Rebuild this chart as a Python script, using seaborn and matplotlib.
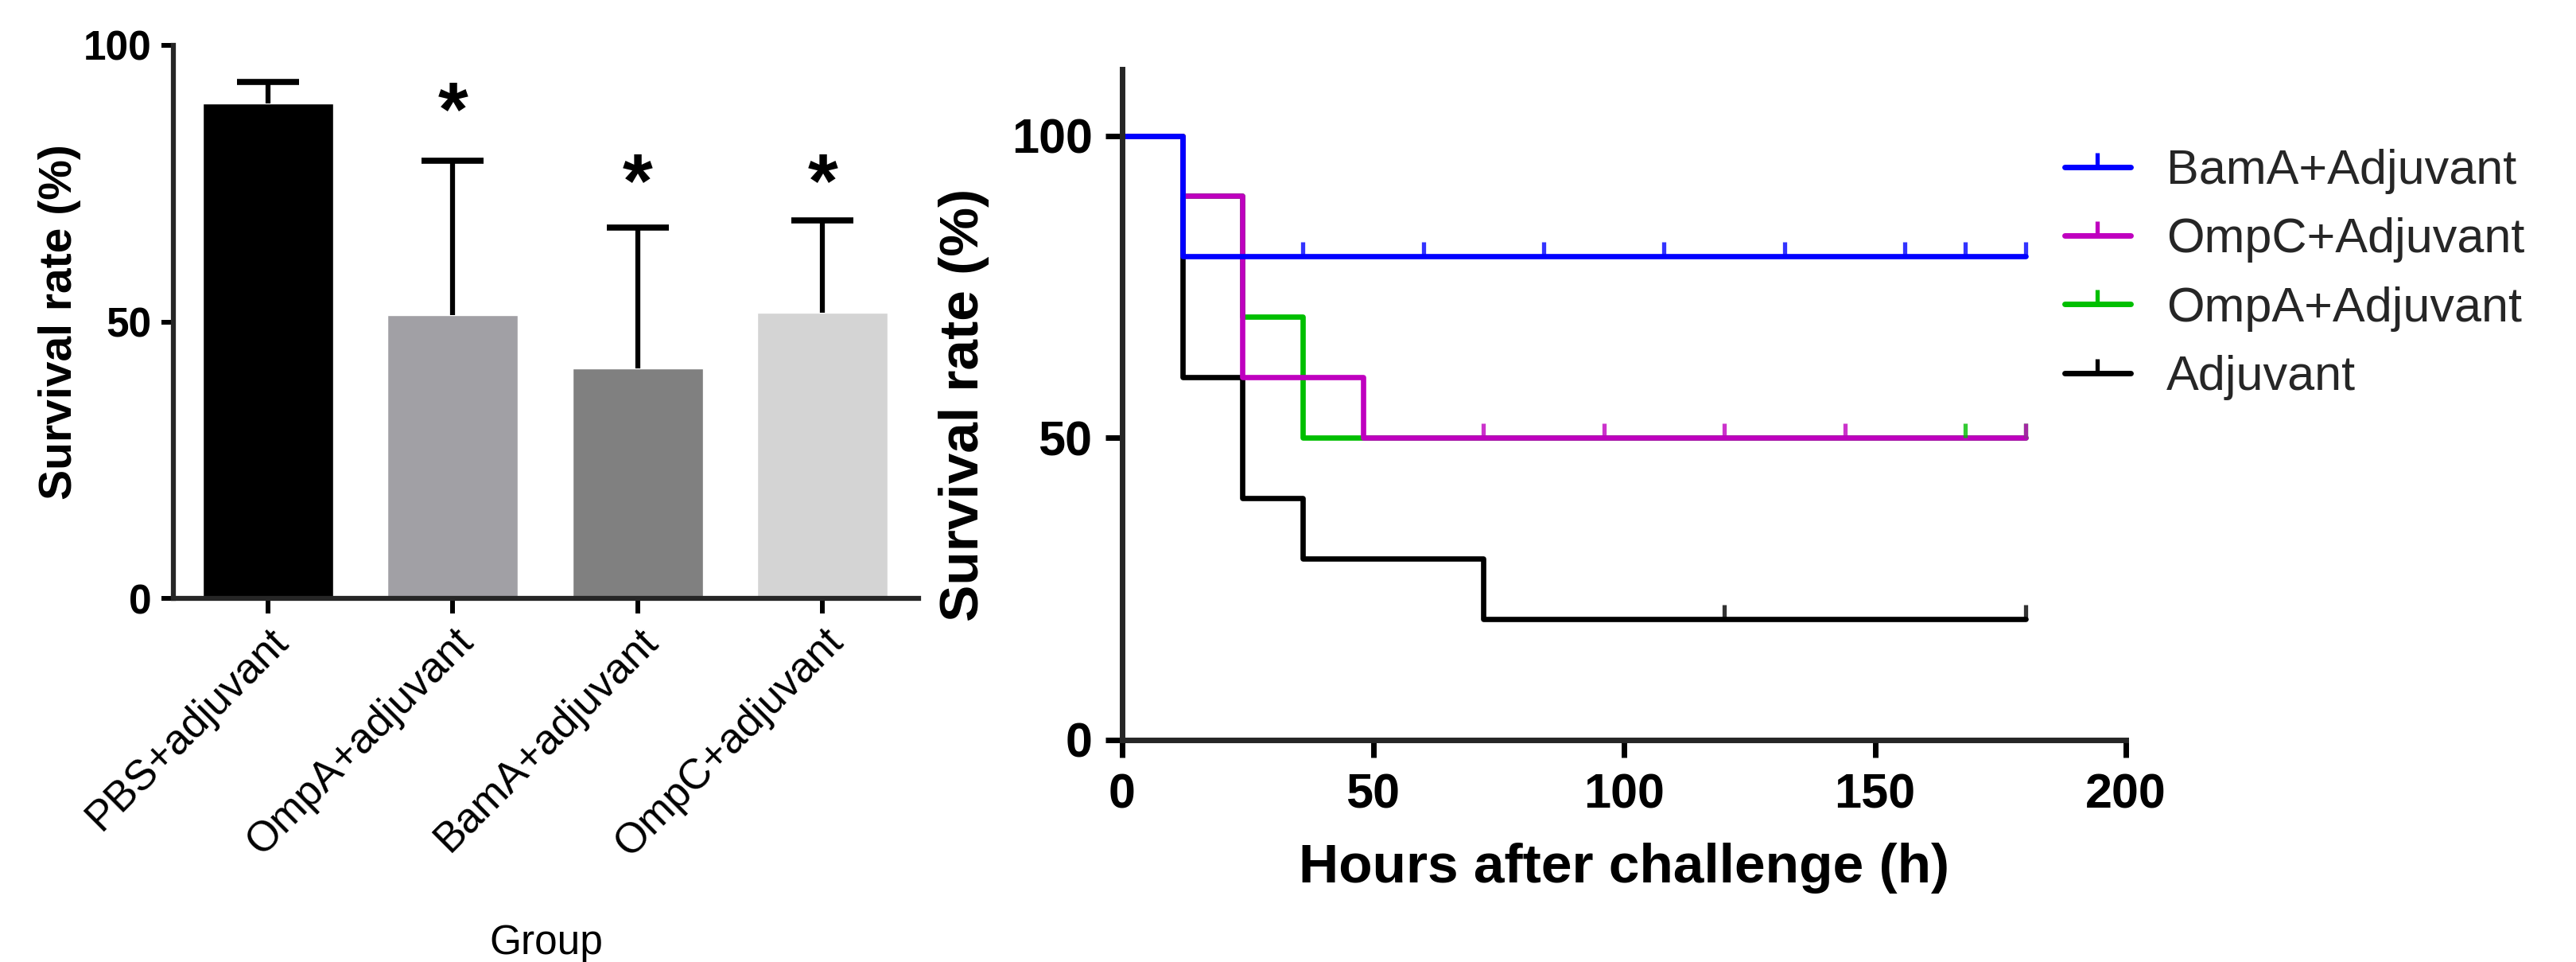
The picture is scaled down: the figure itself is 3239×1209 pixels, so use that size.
import numpy as np
import pandas as pd
import matplotlib
matplotlib.use("Agg")
import matplotlib.pyplot as plt
from matplotlib.path import Path
from matplotlib.lines import Line2D
import seaborn as sns

# --- data: left panel (bar chart) ---
groups = ["PBS+adjuvant", "OmpA+adjuvant", "BamA+adjuvant", "OmpC+adjuvant"]
survival_mean = [89.5, 51.2, 41.6, 51.6]
survival_err = [3.9, 28.0, 25.4, 16.7]
bar_colors = ["#000000", "#a1a0a5", "#808080", "#d4d4d4"]
star_groups = ["OmpA+adjuvant", "BamA+adjuvant", "OmpC+adjuvant"]
star_level = [91, 78, 78]

# --- data: right panel (survival curves) ---
bama_t = [0, 12, 180]
bama_s = [100, 80, 80]
ompc_t = [0, 12, 24, 48, 180]
ompc_s = [100, 90, 60, 50, 50]
ompa_t = [0, 12, 24, 36, 180]
ompa_s = [100, 90, 70, 50, 50]
adj_t = [0, 12, 24, 36, 72, 180]
adj_s = [100, 60, 40, 30, 20, 20]

bama_cens = [36, 60, 84, 108, 132, 156, 168, 180]
ompc_cens = [72, 96, 120, 144, 180]
ompa_cens = [168, 180]
adj_cens = [120, 180]

curve_names = ["BamA+Adjuvant", "OmpC+Adjuvant", "OmpA+Adjuvant", "Adjuvant"]
curve_colors = ["#0000ff", "#bf00bf", "#00bf00", "#000000"]

# --- style ---
sns.set_theme(style="ticks")
plt.rcParams["font.family"] = ["Liberation Sans", "DejaVu Sans"]
plt.rcParams["axes.linewidth"] = 4.5

fig = plt.figure(figsize=(32.39, 12.09), dpi=100)

# ================= left: bar chart =================
ax1 = fig.add_axes([218 / 3239, (1209 - 752) / 1209, (1155 - 218) / 3239, (752 - 57) / 1209])
bars = pd.DataFrame({"group": groups, "rate": survival_mean})
sns.barplot(data=bars, x="group", y="rate", hue="group", order=groups, hue_order=groups,
            palette=dict(zip(groups, bar_colors)), saturation=1, width=0.705,
            legend=False, errorbar=None, ax=ax1)
eb = ax1.errorbar(np.arange(len(groups)), survival_mean,
                  yerr=[np.zeros(len(groups)), survival_err],
                  fmt="none", ecolor="black", elinewidth=4.5, capsize=28, capthick=5.5, zorder=1)
eb[1][0].set_visible(False)  # only the upper cap

em = 70 / 72 * 100 / 6.95  # star font size in data units
for g, lvl in zip(star_groups, star_level):
    ax1.text(groups.index(g), lvl - 0.52 * em, "*", ha="center", va="baseline",
             fontsize=70, fontweight="bold", color="black")

ax1.set_xlim(-0.512, 3.52)
ax1.set_ylim(0, 100)
ax1.set_yticks([0, 50, 100])
ax1.tick_params(axis="y", length=11, width=4.3, pad=9, labelsize=37, colors="black")
ax1.tick_params(axis="x", length=14, width=4.3, pad=6, labelsize=38, colors="black")
for lab in ax1.get_yticklabels():
    lab.set_fontweight("bold")
plt.setp(ax1.get_xticklabels(), rotation=45, ha="right", rotation_mode="anchor")
ax1.set_ylabel("Survival rate (%)", fontsize=41, fontweight="bold", labelpad=2, color="black")
ax1.set_xlabel("Group", fontsize=37, labelpad=54, color="black")
sns.despine(ax=ax1)

# ================= right: survival curves =================
ax2 = fig.add_axes([1411 / 3239, (1209 - 930) / 1209, (2673 - 1411) / 3239, (930 - 87) / 1209])
curves = pd.concat([
    pd.DataFrame({"t": bama_t, "s": bama_s, "group": "BamA+Adjuvant"}),
    pd.DataFrame({"t": ompc_t, "s": ompc_s, "group": "OmpC+Adjuvant"}),
    pd.DataFrame({"t": ompa_t, "s": ompa_s, "group": "OmpA+Adjuvant"}),
    pd.DataFrame({"t": adj_t, "s": adj_s, "group": "Adjuvant"}),
], ignore_index=True)
pal = dict(zip(curve_names, curve_colors))
draw_order = ["Adjuvant", "OmpA+Adjuvant", "OmpC+Adjuvant", "BamA+Adjuvant"]
sns.lineplot(data=curves, x="t", y="s", hue="group", hue_order=draw_order, palette=pal,
             estimator=None, sort=False, drawstyle="steps-post", linewidth=4.8,
             legend=False, ax=ax2)

# censor tick marks (vertical tick above the line)
tick_mark = Path([(0, 0), (0, 1)], [Path.MOVETO, Path.LINETO])
cens = {"Adjuvant": (adj_cens, 20), "OmpA+Adjuvant": (ompa_cens, 50),
        "OmpC+Adjuvant": (ompc_cens, 50), "BamA+Adjuvant": (bama_cens, 80)}
for name in draw_order:
    ts, lvl = cens[name]
    ax2.plot(ts, [lvl] * len(ts), linestyle="none", marker=tick_mark, markersize=26,
             markeredgewidth=3.8, color=pal[name], alpha=0.8)

ax2.set_xlim(0, 200)
ax2.set_ylim(0, 111)
ax2.set_xticks([0, 50, 100, 150, 200])
ax2.set_yticks([0, 50, 100])
ax2.tick_params(axis="y", length=15, width=5, pad=12, labelsize=44, colors="black")
ax2.tick_params(axis="x", length=16, width=5, pad=14, labelsize=44, colors="black")
for lab in ax2.get_xticklabels() + ax2.get_yticklabels():
    lab.set_fontweight("bold")
ax2.set_xlabel("Hours after challenge (h)", fontsize=50, fontweight="bold", labelpad=22, color="black")
ax2.set_ylabel("Survival rate (%)", fontsize=50, fontweight="bold", labelpad=20, color="black")
ax2.spines["left"].set_linewidth(5)
ax2.spines["bottom"].set_linewidth(5)
sns.despine(ax=ax2)

handles = [Line2D([0], [0], color=c, linewidth=5, marker=tick_mark, markersize=26,
                  markeredgewidth=3.8) for c in curve_colors]
fig.legend(handles, curve_names, loc="center left",
           bbox_to_anchor=(2596 / 3239, (1209 - 345) / 1209), frameon=False,
           fontsize=44, handlelength=1.35, handletextpad=0.75, labelspacing=0.48,
           borderpad=0, borderaxespad=0, numpoints=1)

fig.savefig("out.png", dpi=100)
